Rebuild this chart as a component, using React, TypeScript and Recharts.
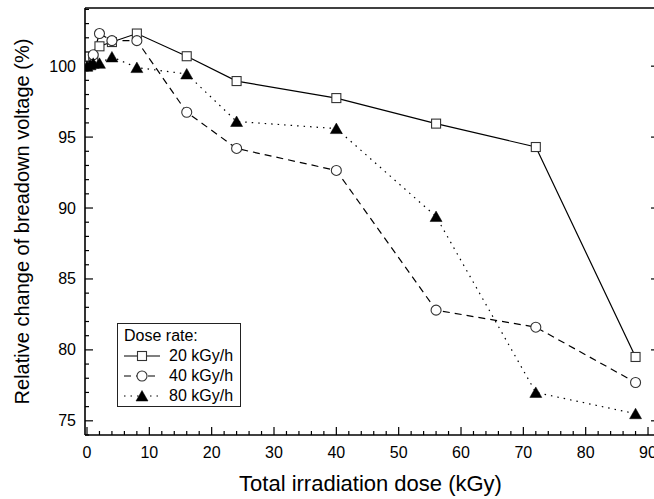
import React from "react";
import { LineChart, Line, XAxis, YAxis, Legend, Label } from "recharts";

// dose (kGy) and relative change of breakdown voltage (%) per dose rate
const doses20 = [0, 1, 2, 4, 8, 16, 24, 40, 56, 72, 88];
const change20 = [100, 100.6, 101.4, 101.7, 102.3, 100.7, 98.95, 97.75, 95.95, 94.3, 79.5];

const doses40 = [0, 1, 2, 4, 8, 16, 24, 40, 56, 72, 88];
const change40 = [100, 100.8, 102.3, 101.8, 101.8, 96.75, 94.2, 92.65, 82.8, 81.6, 77.7];

const doses80 = [0, 0.5, 1, 2, 4, 8, 16, 24, 40, 56, 72, 88];
const change80 = [100, 100.1, 100.2, 100.2, 100.65, 99.9, 99.45, 96.1, 95.6, 89.4, 77.0, 75.5];

const seriesNames = ["20 kGy/h", "40 kGy/h", "80 kGy/h"];
const legendTitle = "Dose rate:";

const xMajorTicks = [0, 10, 20, 30, 40, 50, 60, 70, 80, 90];
const yMajorTicks = [75, 80, 85, 90, 95, 100];
const xTicks = Array.from({ length: 46 }, (_, i) => i * 2);
const yTicks = Array.from({ length: 31 }, (_, i) => 74 + i);

const toPoints = (xs: number[], ys: number[]) => xs.map((x, i) => ({ x, y: ys[i] }));
const data20 = toPoints(doses20, change20);
const data40 = toPoints(doses40, change40);
const data80 = toPoints(doses80, change80);

const FONT = "Arial, 'Liberation Sans', Helvetica, sans-serif";
const X_DOMAIN: [number, number] = [-0.32, 91.28];
const Y_DOMAIN: [number, number] = [74, 104.1];

const dashes = [undefined, "7 5", "1.5 5"];

function Marker({ kind, cx, cy }: { kind: number; cx: number; cy: number }) {
  if (kind === 0)
    return <rect x={cx - 4.5} y={cy - 4.5} width={9} height={9} fill="#fff" stroke="#333" strokeWidth={1.1} />;
  if (kind === 1) return <circle cx={cx} cy={cy} r={5} fill="#fff" stroke="#333" strokeWidth={1.1} />;
  return (
    <polygon
      points={`${cx},${cy - 5.5} ${cx - 6},${cy + 5} ${cx + 6},${cy + 5}`}
      fill="#000"
      stroke="#000"
      strokeWidth={0.5}
    />
  );
}

const dotFor = (kind: number) => (p: any) => (
  <Marker key={`m${kind}-${p.index}`} kind={kind} cx={p.cx} cy={p.cy} />
);

function BottomTick({ x, y, payload }: any) {
  const major = xMajorTicks.includes(payload.value);
  return (
    <g>
      <line x1={x} y1={y} x2={x} y2={y - (major ? 8 : 4)} stroke="#000" strokeWidth={1.2} />
      {major && (
        <text x={x} y={y + 17} textAnchor="middle" dominantBaseline="central" fontSize={16} fontFamily={FONT} fill="#000">
          {payload.value}
        </text>
      )}
    </g>
  );
}

function TopTick({ x, y, payload }: any) {
  const major = xMajorTicks.includes(payload.value);
  return <line x1={x} y1={y} x2={x} y2={y + (major ? 8 : 4)} stroke="#000" strokeWidth={1.2} />;
}

function LeftTick({ x, y, payload }: any) {
  const major = yMajorTicks.includes(payload.value);
  return (
    <g>
      <line x1={x} y1={y} x2={x + (major ? 8 : 4)} y2={y} stroke="#000" strokeWidth={1.2} />
      {major && (
        <text x={x - 9} y={y} textAnchor="end" dominantBaseline="central" fontSize={16} fontFamily={FONT} fill="#000">
          {payload.value}
        </text>
      )}
    </g>
  );
}

function RightTick({ x, y }: any) {
  return <line x1={x} y1={y} x2={x - 5} y2={y} stroke="#000" strokeWidth={1.2} />;
}

function YTitle({ viewBox }: any) {
  const cx = viewBox.x + 22;
  const cy = viewBox.y + viewBox.height / 2;
  return (
    <text
      x={cx}
      y={cy}
      transform={`rotate(-90, ${cx}, ${cy})`}
      textAnchor="middle"
      dominantBaseline="central"
      fontSize={20}
      fontFamily={FONT}
      fill="#000"
    >
      Relative change of breadown voltage (%)
    </text>
  );
}

function XTitle({ viewBox }: any) {
  return (
    <text
      x={viewBox.x + viewBox.width / 2}
      y={viewBox.y + 48}
      textAnchor="middle"
      dominantBaseline="central"
      fontSize={22}
      fontFamily={FONT}
      fill="#000"
    >
      Total irradiation dose (kGy)
    </text>
  );
}

function LegendBox() {
  return (
    <div
      style={{
        border: "1px solid #222",
        background: "#fff",
        padding: "2px 6px 0 6px",
        fontFamily: FONT,
        fontSize: 16,
        lineHeight: "20px",
        color: "#000",
        width: 110,
      }}
    >
      <div>{legendTitle}</div>
      {seriesNames.map((name, i) => (
        <div key={name} style={{ display: "flex", alignItems: "center", height: 20 }}>
          <svg width={36} height={20} style={{ display: "block" }}>
            <line x1={0} y1={10} x2={36} y2={10} stroke="#000" strokeWidth={1.2} strokeDasharray={dashes[i]} />
            <Marker kind={i} cx={18} cy={10} />
          </svg>
          <span style={{ marginLeft: 9 }}>{name}</span>
        </div>
      ))}
    </div>
  );
}

export default function App() {
  return (
    <div style={{ position: "fixed", left: 0, top: 0, width: 654, height: 499, overflow: "hidden", background: "#fff" }}>
      <LineChart width={700} height={499} margin={{ top: 0, right: 0, bottom: 0, left: 0 }}>
        <XAxis
          xAxisId="b"
          dataKey="x"
          type="number"
          domain={X_DOMAIN}
          allowDataOverflow
          ticks={xTicks}
          interval={0}
          height={64}
          tickSize={0}
          tickMargin={0}
          tick={BottomTick}
          axisLine={{ stroke: "#000", strokeWidth: 1.6 }}
        >
          <Label content={XTitle} />
        </XAxis>
        <XAxis
          xAxisId="t"
          orientation="top"
          type="number"
          domain={X_DOMAIN}
          allowDataOverflow
          ticks={xTicks}
          interval={0}
          height={8}
          tickSize={0}
          tickMargin={0}
          tick={TopTick}
          axisLine={{ stroke: "#000", strokeWidth: 1.6 }}
        />
        <YAxis
          yAxisId="l"
          type="number"
          domain={Y_DOMAIN}
          allowDataOverflow
          ticks={yTicks}
          interval={0}
          width={85}
          tickSize={0}
          tickMargin={0}
          tick={LeftTick}
          axisLine={{ stroke: "#000", strokeWidth: 1.6 }}
        >
          <Label content={YTitle} />
        </YAxis>
        <YAxis
          yAxisId="r"
          orientation="right"
          type="number"
          domain={Y_DOMAIN}
          allowDataOverflow
          ticks={yMajorTicks}
          interval={0}
          width={44}
          tickSize={0}
          tickMargin={0}
          tick={RightTick}
          axisLine={{ stroke: "#000", strokeWidth: 1.6 }}
        />
        <Legend layout="vertical" align="center" verticalAlign="middle" content={LegendBox} wrapperStyle={{ left: 117, top: 323, width: "auto" }} />
        <Line
          xAxisId="b"
          yAxisId="l"
          data={data20}
          dataKey="y"
          name={seriesNames[0]}
          type="linear"
          stroke="#000"
          strokeWidth={1.2}
          dot={dotFor(0)}
          activeDot={false}
          isAnimationActive={false}
        />
        <Line
          xAxisId="b"
          yAxisId="l"
          data={data40}
          dataKey="y"
          name={seriesNames[1]}
          type="linear"
          stroke="#000"
          strokeWidth={1.2}
          strokeDasharray={dashes[1]}
          dot={dotFor(1)}
          activeDot={false}
          isAnimationActive={false}
        />
        <Line
          xAxisId="b"
          yAxisId="l"
          data={data80}
          dataKey="y"
          name={seriesNames[2]}
          type="linear"
          stroke="#000"
          strokeWidth={1.2}
          strokeDasharray={dashes[2]}
          dot={dotFor(2)}
          activeDot={false}
          isAnimationActive={false}
        />
      </LineChart>
    </div>
  );
}
